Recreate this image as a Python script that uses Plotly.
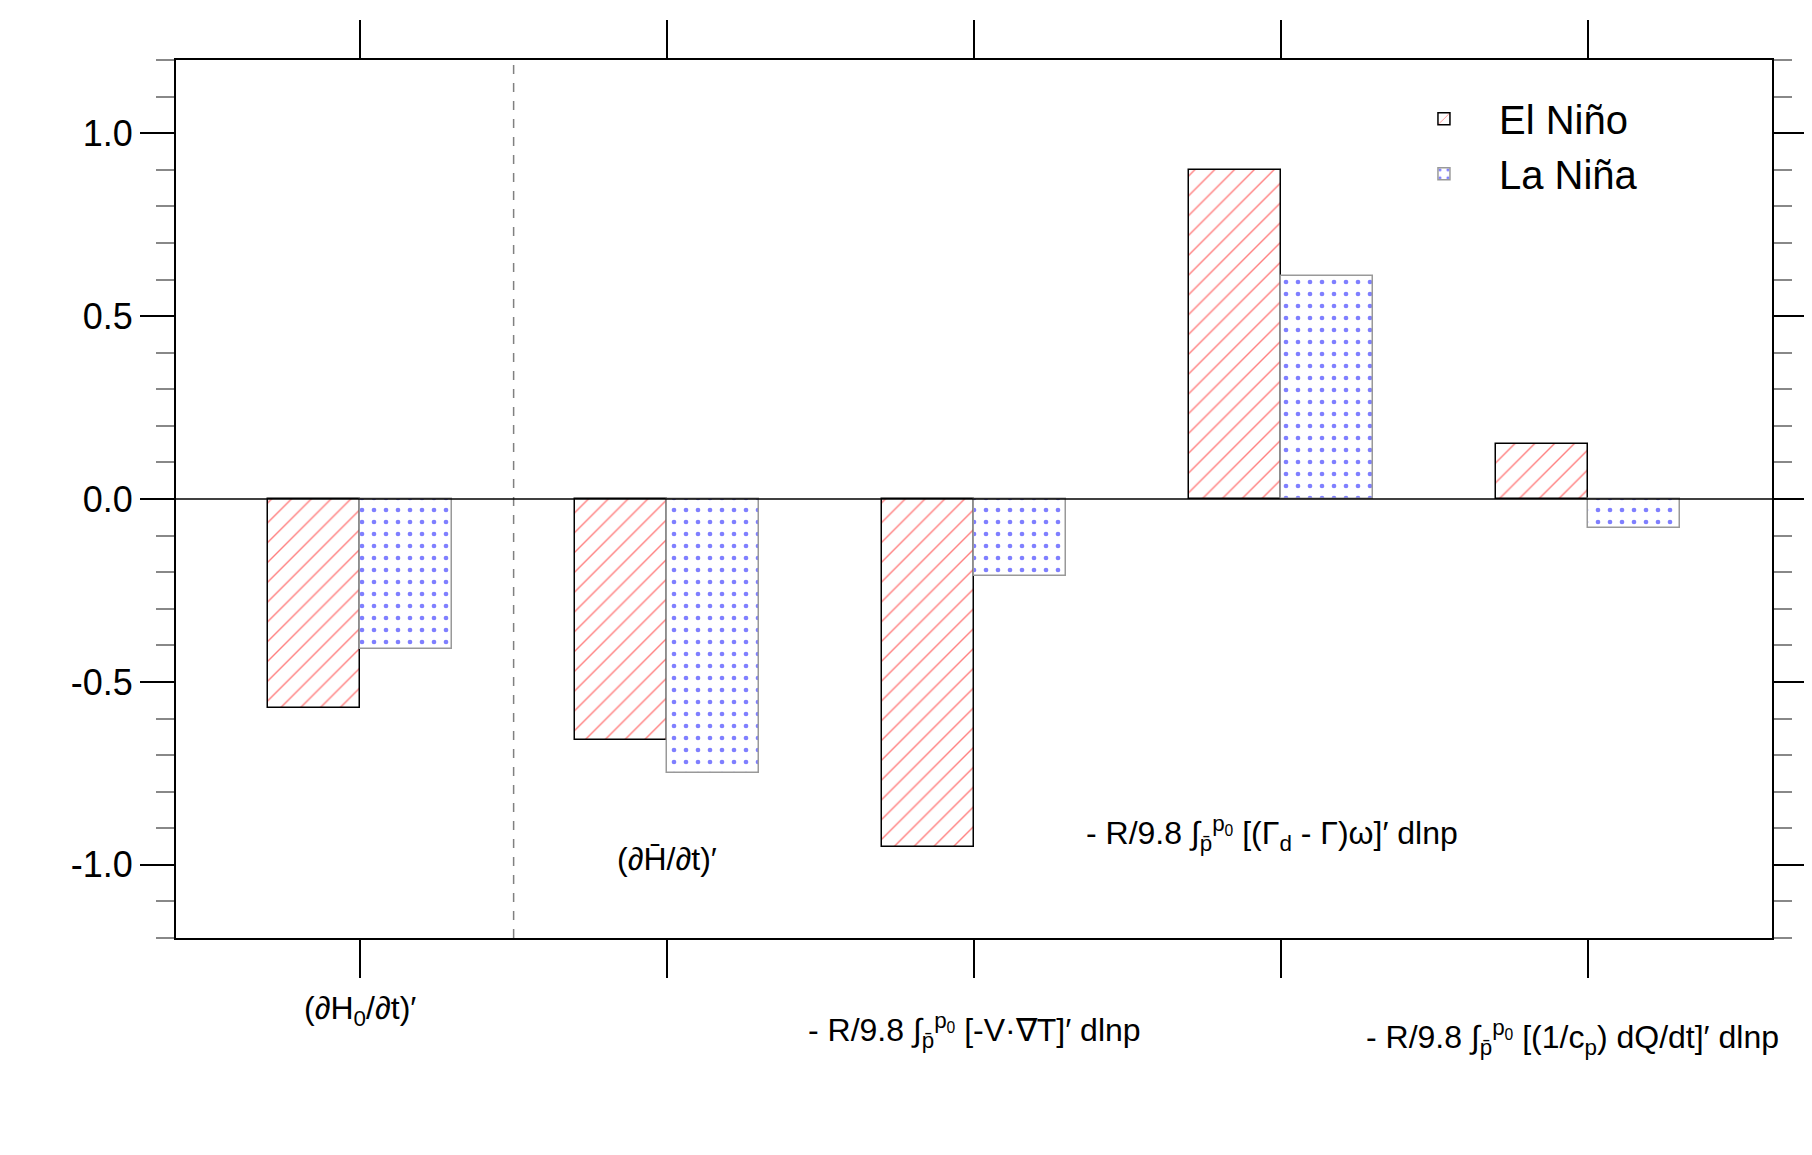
import plotly.graph_objects as go

categories = [0, 1, 2, 3, 4]
el_nino = [-0.57, -0.66, -0.95, 0.90, 0.15]
la_nina = [-0.41, -0.75, -0.21, 0.61, -0.08]

# term labels (approximations of the formulas)
term_labels = [
    "(∂H<sub>0</sub>/∂t)′",
    "(∂H̄/∂t)′",
    "- R/9.8 ∫<sub>p̄</sub><sup>p<sub>0</sub></sup> [-V·∇T]′ dlnp",
    "- R/9.8 ∫<sub>p̄</sub><sup>p<sub>0</sub></sup> [(Γ<sub>d</sub> - Γ)ω]′ dlnp",
    "- R/9.8 ∫<sub>p̄</sub><sup>p<sub>0</sub></sup> [(1/c<sub>p</sub>) dQ/dt]′ dlnp",
]
label_x = [0, 1, 2, 2.97, 3.95]
label_y = [-1.46, -1.04, -1.52, -0.98, -1.54]

font = "Liberation Sans, Arial, sans-serif"

fig = go.Figure()
fig.add_trace(go.Bar(
    x=[c - 0.15 for c in categories], y=el_nino, width=0.3, name="El Niño",
    marker=dict(color="white", line=dict(color="black", width=1.5),
                pattern=dict(shape="/", fgcolor="red", size=14, solidity=0.1)),
))
fig.add_trace(go.Bar(
    x=[c + 0.15 for c in categories], y=la_nina, width=0.3, name="La Niña",
    marker=dict(color="white", line=dict(color="#999999", width=1.5),
                pattern=dict(shape=".", fgcolor="blue", size=12, solidity=0.12)),
))

fig.add_shape(type="line", x0=0.5, x1=0.5, y0=-1.2, y1=1.2,
              line=dict(color="gray", width=1.5, dash="dash"))
fig.add_shape(type="line", x0=-0.6, x1=4.72, y0=0, y1=0,
              line=dict(color="black", width=1.5))

for t, x, y in zip(term_labels, label_x, label_y):
    # paper coordinates so labels below the axis are not hidden
    fig.add_annotation(x=x, y=(y + 1.2) / 2.4, yref="paper", text=t, showarrow=False,
                       font=dict(size=32, family=font, color="black"))

fig.update_xaxes(range=[-0.6, 4.6], tickvals=categories, ticktext=[""] * 5,
                 ticks="outside", ticklen=38, tickwidth=2, tickcolor="black",
                 showline=True, linecolor="black", linewidth=2, mirror="ticks",
                 showgrid=False, zeroline=False)
fig.update_yaxes(range=[-1.2, 1.2], tickvals=[-1.0, -0.5, 0.0, 0.5, 1.0],
                 ticktext=["-1.0", "-0.5", "0.0", "0.5", "1.0"],
                 ticks="outside", ticklen=34, tickwidth=2, tickcolor="black",
                 minor=dict(dtick=0.1, ticks="outside", ticklen=18, tickcolor="#888888"),
                 showline=True, linecolor="black", linewidth=2, mirror="ticks",
                 showgrid=False, zeroline=False,
                 tickfont=dict(size=36, family=font, color="black"))

fig.update_layout(
    width=1812, height=1155, barmode="overlay", bargap=0,
    plot_bgcolor="white", paper_bgcolor="white",
    margin=dict(l=168, r=44, t=44, b=225),
    font=dict(family=font, color="black"),
    legend=dict(x=0.76, y=0.97, xanchor="left", yanchor="top",
                font=dict(size=40, family=font), bgcolor="rgba(0,0,0,0)",
                itemwidth=100, tracegroupgap=30),
    showlegend=True,
)

fig.write_html("out.html")
